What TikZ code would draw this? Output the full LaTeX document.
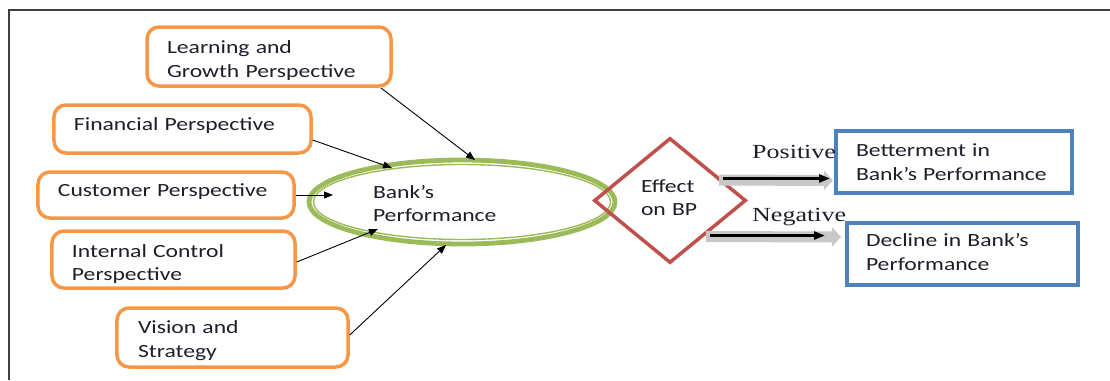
\documentclass[tikz,border=0pt]{standalone}
\usepackage{fontspec}
\setmainfont{Carlito}[FakeStretch=1.27]
\newfontfamily\labelserif{Liberation Serif}[FakeStretch=1.3]
\usetikzlibrary{shapes.geometric,arrows.meta,calc}

\definecolor{boxorange}{HTML}{F79646}
\definecolor{boxblue}{HTML}{4F81BD}
\definecolor{effred}{HTML}{C0504D}
\definecolor{bpgreen}{HTML}{9BBB59}
\definecolor{framegray}{HTML}{404040}
\definecolor{inkdark}{HTML}{1E1E2A}
\definecolor{shadowgray}{HTML}{C8C8C8}

% vertical nudge of a text block inside its frame:
% positive values lift the text, negative values lower it
\newcommand{\padbot}[1]{\par\vspace*{#1}}

\tikzset{
  txt/.style={font=\fontsize{18.6bp}{23.5bp}\selectfont, text=inkdark},
  perspective/.style={txt, draw=boxorange, line width=3.5bp, rounded corners=12bp,
    align=left, inner xsep=20bp, inner ysep=0pt},
  outcome/.style={txt, draw=boxblue, line width=4bp,
    align=left, inner xsep=20bp, inner ysep=0pt},
  feed/.style={draw=black, line width=0.9bp, -{Triangle[length=9bp,width=7bp]}},
  bandshadow/.style={draw=shadowgray, line width=11bp, -{Triangle[length=9bp,width=19bp]}},
  bandline/.style={draw=black, line width=2.6bp, -{Triangle[length=11bp,width=8bp]}},
  serifnote/.style={font=\labelserif\fontsize{20bp}{22bp}\selectfont, text=inkdark, inner sep=0pt}
}

\begin{document}
\begin{tikzpicture}[x=1bp, y=-1bp]
  \useasboundingbox (0,0) rectangle (1110,380);

  % frame lines along the top and the left side
  \coordinate (frameTL) at (9,10);
  \coordinate (frameTR) at (1110,10);
  \coordinate (frameBL) at (9,380);
  \draw[framegray, line width=1.4bp] (frameTR) -- (frameTL) -- (frameBL);

  % the five perspectives
  \node[perspective, text width=204bp, minimum height=59bp] (lg) at (269,56.5)
    {Learning and\\Growth Perspective\padbot{-8bp}};
  \node[perspective, text width=217bp, minimum height=48bp] (fin) at (182.5,129)
    {Financial Perspective\padbot{6bp}};
  \node[perspective, text width=216bp, minimum height=46bp] (cust) at (166,195)
    {Customer Perspective\padbot{6bp}};
  \node[perspective, text width=203bp, minimum height=57bp] (ic) at (173.5,259.5)
    {Internal Control\\Perspective\padbot{-9bp}};
  \node[perspective, text width=189bp, minimum height=59bp, inner xsep=21bp] (vs) at (232.5,337.5)
    {Vision and\\Strategy\padbot{-6bp}};

  % bank's performance (double green outline)
  \node[ellipse, draw=bpgreen, line width=4.8bp, minimum width=306bp, minimum height=84bp,
        inner sep=0pt, txt, text width=178bp, align=left] (bp) at (462,202)
    {Bank’s\\Performance\padbot{-3bp}};
  \draw[bpgreen, line width=1.4bp] (bp.center) ellipse [x radius=148.5bp, y radius=37.5bp];

  % effect decision
  \node[diamond, draw=effred, line width=3.5bp, minimum width=152bp, minimum height=125bp,
        inner sep=0pt, txt, text width=58bp, align=left] (eff) at (670,200.5)
    {Effect\\on BP\padbot{6bp}};

  % outcomes
  \node[outcome, text width=196bp, minimum height=62bp, inner xsep=20bp] (bet) at (954,162)
    {Betterment in\\Bank’s Performance};
  \node[outcome, text width=193bp, minimum height=62bp, inner xsep=19bp] (dec) at (962.5,254)
    {Decline in Bank’s\\Performance\padbot{4bp}};

  % perspectives feeding into performance
  \draw[feed] ($(lg.center)+(112,31.5)$) -- ($(bp.center)+(13,-42)$);
  \draw[feed] ($(fin.east)+(0,11)$) -- ($(bp.center)+(-70,-34)$);
  \draw[feed] (cust.east) -- ($(bp.center)+(-129,-7)$);
  \draw[feed] ($(ic.east)+(0,2.5)$) -- ($(bp.center)+(-84,27)$);
  \draw[feed] ($(vs.east)+(0,-2.5)$) -- ($(bp.center)+(-16,43)$);

  % positive and negative outcome arrows
  \draw[bandshadow] ($(eff.center)+(49,-20.5)$) -- ($(bet.west)+(-1,18.5)$);
  \draw[bandline]   ($(eff.center)+(53,-22)$) -- ($(bet.west)+(-4,16.5)$);
  \draw[bandshadow] ($(eff.center)+(36,36)$) -- ($(dec.west)+(-4,-17)$);
  \draw[bandline]   ($(eff.center)+(40,35)$) -- ($(dec.west)+(-20,-18.5)$);

  \node[serifnote, anchor=west] (pos) at (752,152) {Positive};
  \node[serifnote, anchor=west] (neg) at (752,217) {Negative};
\end{tikzpicture}
\end{document}
